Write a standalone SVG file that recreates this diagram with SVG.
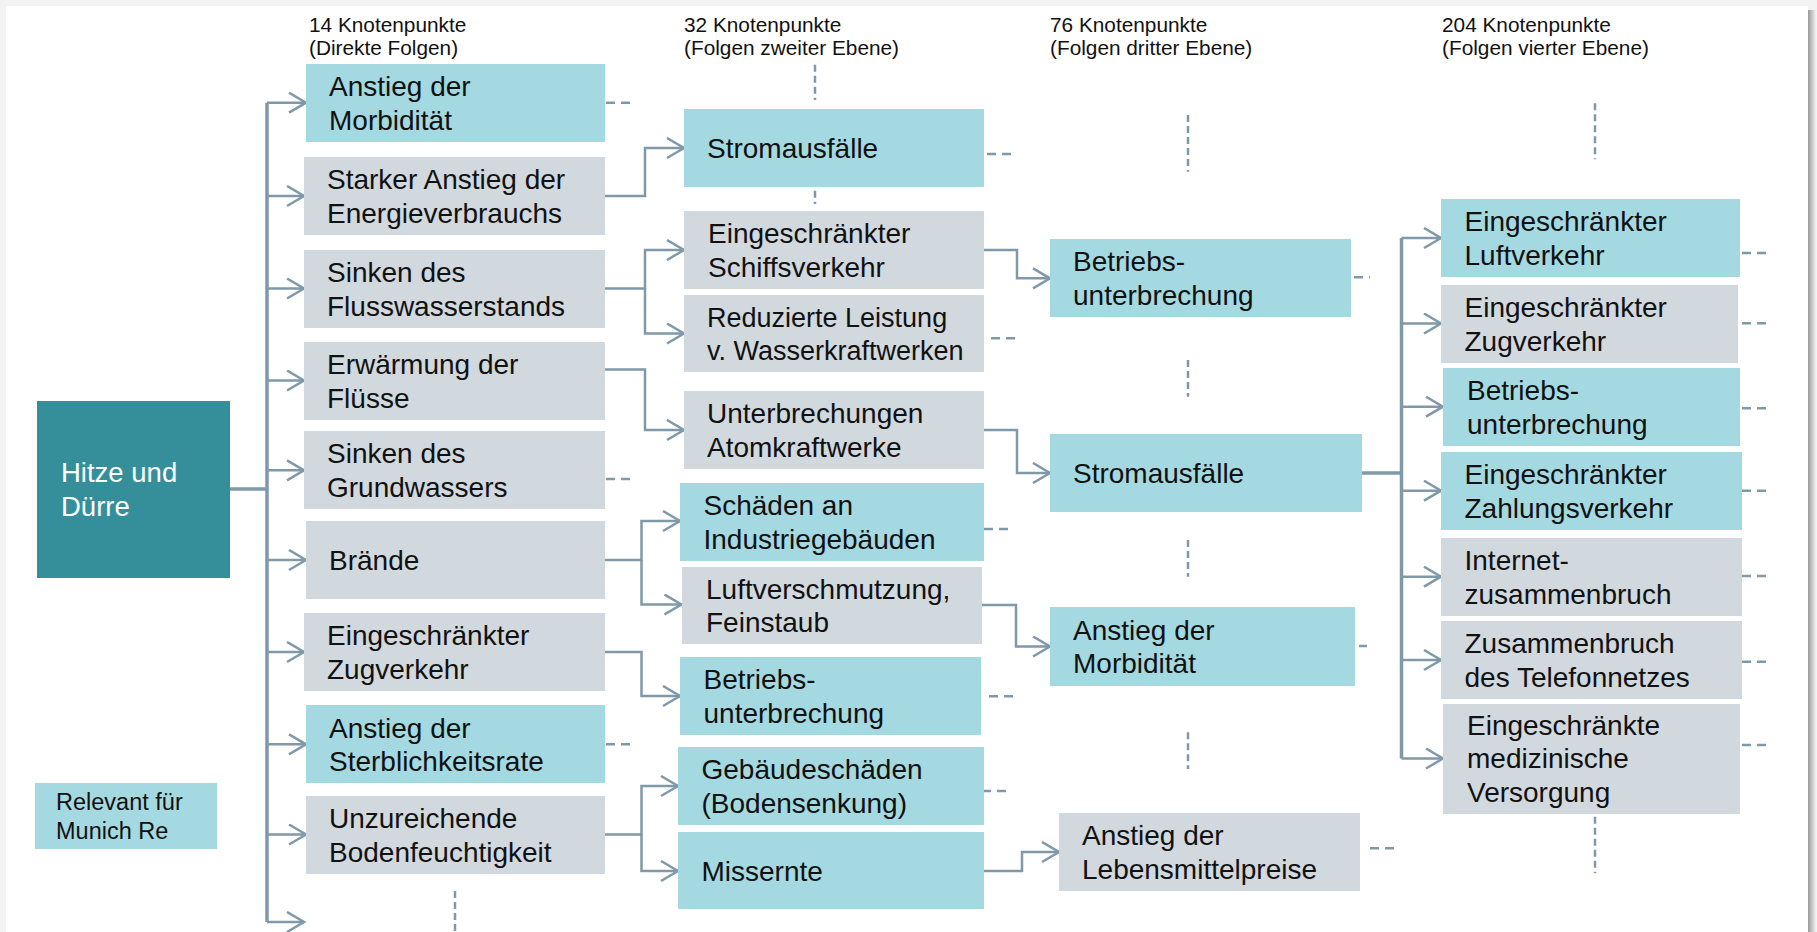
<svg xmlns="http://www.w3.org/2000/svg" width="1817" height="932" viewBox="0 0 1817 932">
<defs>
<style>
.hi{fill:#a4d9e1}
.lo{fill:#d1d9df}
.t{font-family:"Liberation Sans",Arial,sans-serif;font-size:28px;fill:#111}
.h{font-family:"Liberation Sans",Arial,sans-serif;font-size:20.8px;fill:#111}
.c{fill:none;stroke:#7f99a9;stroke-width:2.5}
.a{fill:none;stroke:#7f99a9;stroke-width:2.5;marker-end:url(#arr)}
.k{fill:none;stroke:#7f99a9;stroke-width:3.5}
.dh{fill:none;stroke:#7f99a9;stroke-width:2.5;stroke-dasharray:9 6}
.dv{fill:none;stroke:#7f99a9;stroke-width:2.5;stroke-dasharray:7 4}
</style>
<marker id="arr" markerUnits="userSpaceOnUse" markerWidth="22" markerHeight="24" refX="18" refY="11" orient="auto" viewBox="0 0 22 24">
<path d="M1,1 L18,11 L1,21" fill="none" stroke="#7f99a9" stroke-width="2.5"/>
</marker>
<linearGradient id="sh" x1="0" y1="0" x2="1" y2="0">
<stop offset="0" stop-color="#9a9a9a"/>
<stop offset="1" stop-color="#f2f2f2"/>
</linearGradient>
</defs>
<rect x="0" y="0" width="1817" height="932" fill="#f3f3f3"/>
<rect x="1808" y="10" width="8" height="922" fill="url(#sh)"/>
<rect x="6" y="6" width="1802" height="926" fill="#ffffff"/>

<g id="headers">
<text class="h" x="309" y="32">14 Knotenpunkte</text>
<text class="h" x="309" y="55">(Direkte Folgen)</text>
<text class="h" x="684" y="32">32 Knotenpunkte</text>
<text class="h" x="684" y="55">(Folgen zweiter Ebene)</text>
<text class="h" x="1050" y="32">76 Knotenpunkte</text>
<text class="h" x="1050" y="55">(Folgen dritter Ebene)</text>
<text class="h" x="1442" y="32">204 Knotenpunkte</text>
<text class="h" x="1442" y="55">(Folgen vierter Ebene)</text>
</g>

<g id="connectors">
<path class="k" d="M230,489 H267 M267,102.7 V922"/>
<path class="a" d="M267,102.7 H306"/>
<path class="a" d="M267,196 H304"/>
<path class="a" d="M267,288.5 H304"/>
<path class="a" d="M267,380.5 H304"/>
<path class="a" d="M267,470.3 H304"/>
<path class="a" d="M267,560 H306"/>
<path class="a" d="M267,652 H304"/>
<path class="a" d="M267,744.3 H306"/>
<path class="a" d="M267,834.5 H306"/>
<path class="a" d="M267,922 H304"/>

<path class="a" d="M605,196 H645 V148 H684"/>
<path class="a" d="M605,288.5 H645 V250 H684"/>
<path class="a" d="M645,288.5 V333.5 H684"/>
<path class="a" d="M605,369.5 H645 V430 H684"/>
<path class="a" d="M605,560 H641.5 V521 H680"/>
<path class="a" d="M641.5,560 V604.5 H681.5"/>
<path class="a" d="M605,652 H641.5 V696 H680"/>
<path class="a" d="M605,834.5 H641.5 V786 H678"/>
<path class="a" d="M641.5,834.5 V871 H678"/>

<path class="a" d="M984,250 H1017 V278.3 H1050"/>
<path class="a" d="M984,430 H1017 V473 H1050"/>
<path class="a" d="M982,605 H1016 V646.5 H1050"/>
<path class="a" d="M984,871 H1022 V852 H1059"/>

<path class="k" d="M1362,473 H1401.5 M1401.5,238 V758.5"/>
<path class="a" d="M1401.5,238 H1441"/>
<path class="a" d="M1401.5,323.5 H1441"/>
<path class="a" d="M1401.5,406.7 H1443"/>
<path class="a" d="M1401.5,490.7 H1441"/>
<path class="a" d="M1401.5,576.7 H1441"/>
<path class="a" d="M1401.5,660 H1441"/>
<path class="a" d="M1401.5,758.5 H1443"/>

<path class="dh" d="M606,102.7 H636 M606,479 H636 M606,744.3 H636"/>
<path class="dh" d="M987,154 H1017 M991,338.3 H1021 M984,529 H1013 M989,696.3 H1018 M982,791 H1011"/>
<path class="dh" d="M1354,277.3 H1370 M1359,646 H1367 M1370,848.3 H1399"/>
<path class="dh" d="M1742,253 H1771 M1742,323.3 H1771 M1742,408.3 H1771 M1742,490.7 H1771 M1742,576 H1771 M1742,661.7 H1771 M1742,745 H1771"/>
<path class="dv" d="M815,64.7 V100 M815,190.7 V204 M1188,115 V171.7 M1188,360 V396.7 M1188,540 V576.7 M1188,732.3 V769 M1595,103.3 V159.3 M1595,816.7 V873.3 M455,891 V932"/>
</g>

<g id="root">
<rect x="37" y="401" width="193" height="177" fill="#348f9b"/>
<text class="t" x="61" y="482" style="fill:#ffffff;font-size:27.5px">Hitze und</text>
<text class="t" x="61" y="515.7" style="fill:#ffffff;font-size:27.5px">Dürre</text>
</g>

<g id="legend">
<rect class="hi" x="35" y="783" width="182" height="66"/>
<text class="t" x="56" y="810" style="font-size:23.5px">Relevant für</text>
<text class="t" x="56" y="839" style="font-size:23.5px">Munich Re</text>
</g>

<g id="n1-morbiditaet"><rect class="hi" x="306" y="64" width="299" height="78"/><text class="t" x="329" y="96.3">Anstieg der</text><text class="t" x="329" y="129.6">Morbidität</text></g>
<g id="n1-energie"><rect class="lo" x="304" y="157" width="301" height="78"/><text class="t" x="327" y="189.3">Starker Anstieg der</text><text class="t" x="327" y="222.6">Energieverbrauchs</text></g>
<g id="n1-fluss"><rect class="lo" x="304" y="250" width="301" height="78"/><text class="t" x="327" y="282.3">Sinken des</text><text class="t" x="327" y="315.6">Flusswasserstands</text></g>
<g id="n1-erwaermung"><rect class="lo" x="304" y="342" width="301" height="78"/><text class="t" x="327" y="374.3">Erwärmung der</text><text class="t" x="327" y="407.6">Flüsse</text></g>
<g id="n1-grundwasser"><rect class="lo" x="304" y="431" width="301" height="78"/><text class="t" x="327" y="463.3">Sinken des</text><text class="t" x="327" y="496.6">Grundwassers</text></g>
<g id="n1-braende"><rect class="lo" x="306" y="521" width="299" height="78"/><text class="t" x="329" y="569.8">Brände</text></g>
<g id="n1-zug"><rect class="lo" x="304" y="613" width="301" height="78"/><text class="t" x="327" y="645.3">Eingeschränkter</text><text class="t" x="327" y="678.6">Zugverkehr</text></g>
<g id="n1-sterblichkeit"><rect class="hi" x="306" y="705" width="299" height="78"/><text class="t" x="329" y="737.6">Anstieg der</text><text class="t" x="329" y="770.9">Sterblichkeitsrate</text></g>
<g id="n1-boden"><rect class="lo" x="306" y="796" width="299" height="78"/><text class="t" x="329" y="828.3">Unzureichende</text><text class="t" x="329" y="861.6">Bodenfeuchtigkeit</text></g>

<g id="n2-strom"><rect class="hi" x="684" y="109" width="300" height="78"/><text class="t" x="707" y="157.8">Stromausfälle</text></g>
<g id="n2-schiff"><rect class="lo" x="684" y="211" width="300" height="78"/><text class="t" x="708" y="243.3">Eingeschränkter</text><text class="t" x="708" y="276.6">Schiffsverkehr</text></g>
<g id="n2-wasserkraft"><rect class="lo" x="684" y="295" width="300" height="77"/><text class="t" x="707" y="326.8" style="font-size:27px">Reduzierte Leistung</text><text class="t" x="707" y="360.1" style="font-size:27px">v. Wasserkraftwerken</text></g>
<g id="n2-atom"><rect class="lo" x="684" y="391" width="300" height="78"/><text class="t" x="707" y="423.3">Unterbrechungen</text><text class="t" x="707" y="456.6">Atomkraftwerke</text></g>
<g id="n2-industrie"><rect class="hi" x="680" y="483" width="304" height="78"/><text class="t" x="703.5" y="515.3">Schäden an</text><text class="t" x="703.5" y="548.6">Industriegebäuden</text></g>
<g id="n2-luft"><rect class="lo" x="682" y="567" width="300" height="77"/><text class="t" x="706" y="598.8">Luftverschmutzung,</text><text class="t" x="706" y="632.1">Feinstaub</text></g>
<g id="n2-betrieb"><rect class="hi" x="680" y="657" width="301" height="78"/><text class="t" x="703.5" y="689.3">Betriebs-</text><text class="t" x="703.5" y="722.6">unterbrechung</text></g>
<g id="n2-gebaeude"><rect class="hi" x="678" y="747" width="306" height="78"/><text class="t" x="701.5" y="779.3">Gebäudeschäden</text><text class="t" x="701.5" y="812.6">(Bodensenkung)</text></g>
<g id="n2-missernte"><rect class="hi" x="678" y="832" width="306" height="77"/><text class="t" x="701.5" y="880.8">Missernte</text></g>

<g id="n3-betrieb"><rect class="hi" x="1050" y="239" width="301" height="78"/><text class="t" x="1073" y="271.3">Betriebs-</text><text class="t" x="1073" y="304.6">unterbrechung</text></g>
<g id="n3-strom"><rect class="hi" x="1050" y="434" width="312" height="78"/><text class="t" x="1073" y="482.8">Stromausfälle</text></g>
<g id="n3-morbiditaet"><rect class="hi" x="1050" y="607" width="305" height="79"/><text class="t" x="1073" y="639.7">Anstieg der</text><text class="t" x="1073" y="673">Morbidität</text></g>
<g id="n3-lebensmittel"><rect class="lo" x="1059" y="813" width="301" height="78"/><text class="t" x="1082" y="845.3">Anstieg der</text><text class="t" x="1082" y="878.6">Lebensmittelpreise</text></g>

<g id="n4-luft"><rect class="hi" x="1441" y="199" width="299" height="78"/><text class="t" x="1464.5" y="231.3">Eingeschränkter</text><text class="t" x="1464.5" y="264.6">Luftverkehr</text></g>
<g id="n4-zug"><rect class="lo" x="1441" y="285" width="297" height="78"/><text class="t" x="1464.5" y="317.3">Eingeschränkter</text><text class="t" x="1464.5" y="350.6">Zugverkehr</text></g>
<g id="n4-betrieb"><rect class="hi" x="1443" y="368" width="297" height="78"/><text class="t" x="1467" y="400.3">Betriebs-</text><text class="t" x="1467" y="433.6">unterbrechung</text></g>
<g id="n4-zahlung"><rect class="hi" x="1441" y="452" width="301" height="78"/><text class="t" x="1464.5" y="484.3">Eingeschränkter</text><text class="t" x="1464.5" y="517.6">Zahlungsverkehr</text></g>
<g id="n4-internet"><rect class="lo" x="1441" y="538" width="301" height="78"/><text class="t" x="1464.5" y="570.3">Internet-</text><text class="t" x="1464.5" y="603.6">zusammenbruch</text></g>
<g id="n4-telefon"><rect class="lo" x="1441" y="621" width="301" height="78"/><text class="t" x="1464.5" y="653.3">Zusammenbruch</text><text class="t" x="1464.5" y="686.6">des Telefonnetzes</text></g>
<g id="n4-medizin"><rect class="lo" x="1443" y="704" width="297" height="110"/><text class="t" x="1467" y="735">Eingeschränkte</text><text class="t" x="1467" y="768.3">medizinische</text><text class="t" x="1467" y="801.6">Versorgung</text></g>
</svg>
